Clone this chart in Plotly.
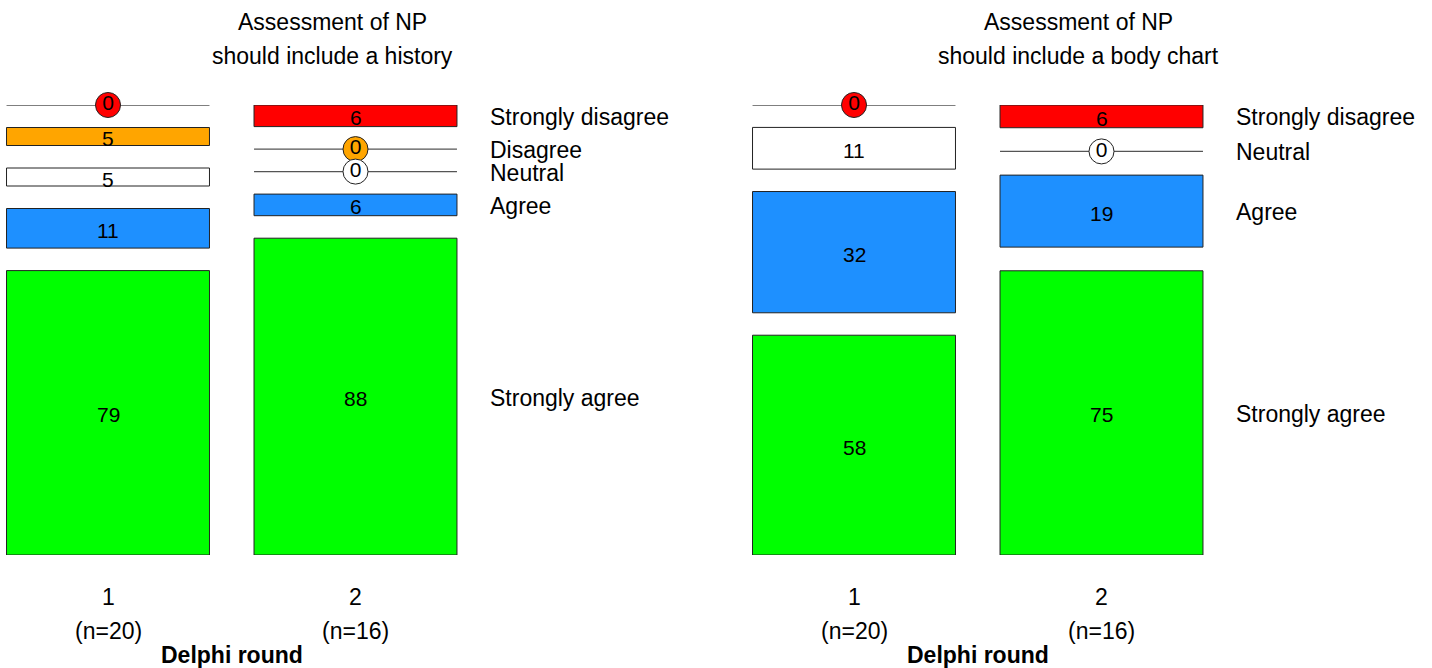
import plotly.graph_objects as go

# ---------------- data ----------------
rounds = [1, 2]
round_labels = ["1", "2"]
n_labels = ["(n=20)", "(n=16)"]
axis_title = "Delphi round"

history_title = ["Assessment of NP", "should include a history"]
history_categories = ["Strongly disagree", "Disagree", "Neutral", "Agree", "Strongly agree"]
history_round1 = [0, 5, 5, 11, 79]
history_round2 = [6, 0, 0, 6, 88]

body_title = ["Assessment of NP", "should include a body chart"]
body_categories = ["Strongly disagree", "Neutral", "Agree", "Strongly agree"]
body_round1 = [0, 11, 32, 58]
body_round2 = [6, 0, 19, 75]

category_colors = {
    "Strongly disagree": "#FF0000",
    "Disagree": "#FFA500",
    "Neutral": "#FFFFFF",
    "Agree": "#1E90FF",
    "Strongly agree": "#00FF00",
}

# ---------------- layout constants ----------------
W, H = 1432, 668
GAP = 6.25          # gap between segments (percentage units)
BAR_W = 0.82
FONT = "Liberation Sans, Arial, Helvetica, sans-serif"
TXT = 23
VAL = 21
TOP_PX, BOT_PX = 105, 555
X_RANGE = [0.5636, 3.2465]
LABEL_X = 2.5353

def py(pix):
    return (H - pix) / H

fig = go.Figure()
annotations = []

panels = [
    dict(xa="x", ya="y", title=history_title, cats=history_categories,
         cols=[history_round1, history_round2]),
    dict(xa="x2", ya="y2", title=body_title, cats=body_categories,
         cols=[body_round1, body_round2]),
]

for p in panels:
    cats = p["cats"]
    ncat = len(cats)
    total_range = 100 + (ncat - 1) * GAP
    p["range"] = total_range
    label_pos = {}
    for ci, vals in enumerate(p["cols"]):
        xc = rounds[ci]
        gap = (total_range - sum(vals)) / (ncat - 1)
        start = 0.0
        for cat, v in zip(cats, vals):
            col = category_colors[cat]
            if v > 0:
                fig.add_trace(go.Bar(
                    x=[xc], y=[v], base=[start], width=BAR_W,
                    marker=dict(color=col, line=dict(color="#222222", width=1)),
                    xaxis=p["xa"], yaxis=p["ya"], showlegend=False,
                    hoverinfo="skip", cliponaxis=False,
                ))
                annotations.append(dict(
                    x=xc, y=start + v / 2, xref=p["xa"], yref=p["ya"],
                    text=str(v), showarrow=False, xanchor="center", yanchor="middle",
                    yshift=-2, font=dict(family=FONT, size=VAL, color="black"),
                ))
                mid = start + v / 2
            else:
                fig.add_trace(go.Scatter(
                    x=[xc - BAR_W / 2, xc + BAR_W / 2], y=[start, start], mode="lines",
                    line=dict(color="#555555", width=1.3), cliponaxis=False,
                    xaxis=p["xa"], yaxis=p["ya"], showlegend=False, hoverinfo="skip",
                ))
                fig.add_trace(go.Scatter(
                    x=[xc], y=[start], mode="markers+text", text=[str(v)],
                    textposition="middle center", cliponaxis=False,
                    textfont=dict(family=FONT, size=VAL, color="black"),
                    marker=dict(size=25, color=col, line=dict(color="#222222", width=1)),
                    xaxis=p["xa"], yaxis=p["ya"], showlegend=False, hoverinfo="skip",
                ))
                mid = start
            if ci == len(p["cols"]) - 1:
                label_pos[cat] = mid
            start += v + gap
    # category labels to the right of the last column
    for cat in cats:
        annotations.append(dict(
            x=LABEL_X, y=label_pos[cat], xref=p["xa"], yref=p["ya"],
            text=cat, showarrow=False, xanchor="left", yanchor="middle",
            yshift=-1, font=dict(family=FONT, size=TXT, color="black"),
        ))
    # title lines
    for li, line in enumerate(p["title"]):
        annotations.append(dict(
            x=0.5, y=py(22 + 34 * li), xref=p["xa"] + " domain", yref="paper",
            text=line, showarrow=False, xanchor="center", yanchor="middle",
            font=dict(family=FONT, size=TXT, color="black"),
        ))
    # round tick labels
    for r, rl, nl in zip(rounds, round_labels, n_labels):
        annotations.append(dict(
            x=r, y=py(597), xref=p["xa"], yref="paper", text=rl, showarrow=False,
            xanchor="center", yanchor="middle",
            font=dict(family=FONT, size=TXT, color="black"),
        ))
        annotations.append(dict(
            x=r, y=py(631), xref=p["xa"], yref="paper", text=nl, showarrow=False,
            xanchor="center", yanchor="middle",
            font=dict(family=FONT, size=TXT, color="black"),
        ))
    annotations.append(dict(
        x=sum(rounds) / len(rounds), y=py(655), xref=p["xa"], yref="paper",
        text="<b>" + axis_title + "</b>", showarrow=False,
        xanchor="center", yanchor="middle",
        font=dict(family=FONT, size=TXT, color="black"),
    ))

ydom = [py(BOT_PX), py(TOP_PX)]
axis_common = dict(showgrid=False, zeroline=False, showticklabels=False,
                   showline=False, ticks="", fixedrange=True)

fig.update_layout(
    width=W, height=H, margin=dict(l=0, r=0, t=0, b=0),
    plot_bgcolor="white", paper_bgcolor="white",
    barmode="overlay", showlegend=False,
    xaxis=dict(domain=[0, 664 / W], range=X_RANGE, **axis_common),
    xaxis2=dict(domain=[746 / W, 1410 / W], range=X_RANGE, **axis_common),
    yaxis=dict(domain=ydom, range=[panels[0]["range"], 0], anchor="x", **axis_common),
    yaxis2=dict(domain=ydom, range=[panels[1]["range"], 0], anchor="x2", **axis_common),
    annotations=annotations,
)

fig.write_html(
    "out.html",
    config={"displayModeBar": False},
    post_script="document.body.style.margin='0';document.body.style.overflow='hidden';",
)
